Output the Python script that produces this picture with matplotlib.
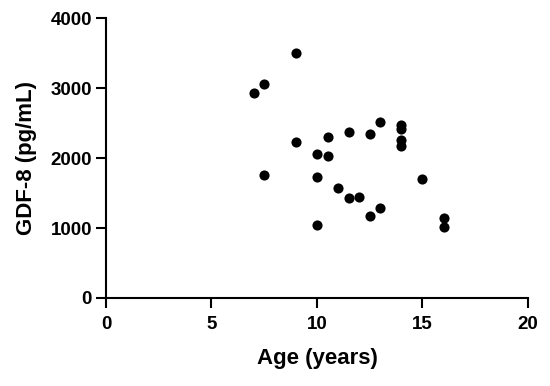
import matplotlib
matplotlib.use("Agg")
import matplotlib.pyplot as plt

age = [9.0, 7.5, 7.0, 9.0, 13.0, 14.0, 14.0, 14.0, 14.0, 11.5, 12.5, 10.5, 10.0,
       10.5, 7.5, 10.0, 15.0, 11.0, 11.5, 12.0, 13.0, 12.5, 10.0, 16.0, 16.0]
gdf8 = [3500, 3065, 2925, 2235, 2515, 2470, 2410, 2255, 2170, 2375, 2340, 2305, 2065,
        2030, 1755, 1730, 1700, 1575, 1425, 1450, 1290, 1170, 1045, 1150, 1020]

x_ticks = [0, 5, 10, 15, 20]
y_ticks = [0, 1000, 2000, 3000, 4000]

plt.rcParams["font.family"] = ["Liberation Sans", "DejaVu Sans"]
plt.rcParams["font.weight"] = "bold"

fig = plt.figure(figsize=(5.5, 3.86), dpi=100)
ax = fig.add_axes([0.1927, 0.228, 0.7673, 0.725])

ax.plot(age, gdf8, "o", color="black", markersize=7.3, markeredgewidth=0, clip_on=False)

ax.set_xlim(0, 20)
ax.set_ylim(0, 4000)
ax.set_xticks(x_ticks)
ax.set_yticks(y_ticks)
ax.tick_params(direction="out", length=7, width=1.5, labelsize=13.5)
ax.tick_params(axis="x", pad=6)
ax.tick_params(axis="y", pad=3)
for lbl in ax.get_xticklabels() + ax.get_yticklabels():
    lbl.set_fontweight("bold")

for side in ("top", "right"):
    ax.spines[side].set_visible(False)
for side in ("left", "bottom"):
    ax.spines[side].set_linewidth(1.5)

ax.set_xlabel("Age (years)", fontsize=16, fontweight="bold", labelpad=11)
ax.set_ylabel("GDF-8 (pg/mL)", fontsize=16, fontweight="bold", labelpad=10)

fig.savefig("out.png", dpi=100)
